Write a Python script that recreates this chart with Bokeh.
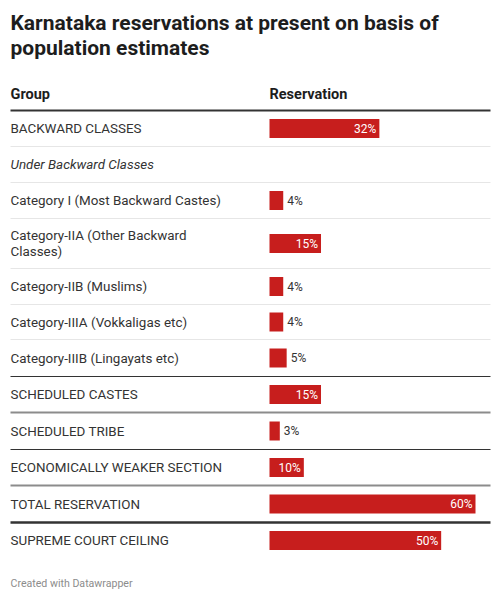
from bokeh.core.properties import value
from bokeh.embed import file_html
from bokeh.models import ColumnDataSource, Range1d
from bokeh.plotting import figure
from bokeh.resources import INLINE

title_lines = ["Karnataka reservations at present on basis of", "population estimates"]
column_names = ["Group", "Reservation"]
groups = [
    "BACKWARD CLASSES",
    "Under Backward Classes",
    "Category I (Most Backward Castes)",
    "Category-IIA (Other Backward\nClasses)",
    "Category-IIB (Muslims)",
    "Category-IIIA (Vokkaligas etc)",
    "Category-IIIB (Lingayats etc)",
    "SCHEDULED CASTES",
    "SCHEDULED TRIBE",
    "ECONOMICALLY WEAKER SECTION",
    "TOTAL RESERVATION",
    "SUPREME COURT CEILING",
]
reservation = [32, None, 4, 15, 4, 4, 5, 15, 3, 10, 60, 50]
footer = "Created with Datawrapper"

# layout, in page pixels (bokeh's page template has no body margin)
W, H = 500, 600
LEFT, RIGHT = 10, 490
BAR_X = 269
table_top = 110
row_heights = [36, 36, 36, 50, 36, 35, 37, 36, 37, 36, 37, 36]
rules = ["light"] * 6 + ["dark", "mid", "dark", "mid", "heavy", None]
rule_look = {
    "light": ("#e6e6e6", 1),
    "dark": ("#333333", 1),
    "mid": ("#8c8c8c", 2),
    "heavy": ("#333333", 2.5),
}
FONT = value("Roboto")
RED = "#c71e1d"
TEXT = "#333333"

p = figure(
    width=W,
    height=H,
    x_range=Range1d(0, W),
    y_range=Range1d(H, 0),
    x_axis_type=None,
    y_axis_type=None,
    toolbar_location=None,
    output_backend="svg",
    min_border=0,
)
p.outline_line_color = None
p.background_fill_color = "white"
# 0% sits at x=269 and 60% at x=475
p.extra_x_ranges = {"pct": Range1d(-78.35, 67.28)}

# title
p.text(x=[LEFT, LEFT], y=[22.5, 47.5], text=title_lines, text_font=FONT,
       text_font_size="21px", text_font_style="bold", text_color="#1d1d1d",
       text_baseline="middle")

# header
p.text(x=[LEFT, BAR_X], y=[93.5, 93.5], text=column_names, text_font=FONT,
       text_font_size="14.5px", text_font_style="bold", text_color="#1d1d1d",
       text_baseline="middle")
p.segment(x0=[LEFT], x1=[RIGHT], y0=[table_top], y1=[table_top],
          line_color="#333333", line_width=2)

# rows
centers, bottoms = [], []
y = table_top
for h in row_heights:
    centers.append(y + h / 2)
    y += h
    bottoms.append(y)

styles = ["italic" if v is None else "normal" for v in reservation]
p.text(x=[LEFT] * len(groups), y=centers, text=groups, text_font=FONT,
       text_font_size="13.4px", text_font_style=styles, text_color=TEXT,
       text_baseline="middle", text_line_height=1.05)

for b, r in zip(bottoms, rules):
    if r is None:
        continue
    color, width = rule_look[r]
    p.segment(x0=[LEFT], x1=[RIGHT], y0=[b], y1=[b], line_color=color, line_width=width)

bars = ColumnDataSource(data=dict(
    y=[c for c, v in zip(centers, reservation) if v is not None],
    v=[v for v in reservation if v is not None],
))
p.hbar(y="y", left=0, right="v", height=19, source=bars, x_range_name="pct",
       fill_color=RED, line_color=None)

inside = [(c, v) for c, v in zip(centers, reservation) if v is not None and v >= 10]
outside = [(c, v) for c, v in zip(centers, reservation) if v is not None and v < 10]
p.text(x=[v for _, v in inside], y=[c for c, _ in inside], text=[f"{v}%" for _, v in inside],
       x_range_name="pct", x_offset=-3, text_align="right", text_baseline="middle",
       text_font=FONT, text_font_size="12px", text_color="white")
p.text(x=[v for _, v in outside], y=[c for c, _ in outside], text=[f"{v}%" for _, v in outside],
       x_range_name="pct", x_offset=4, text_align="left", text_baseline="middle",
       text_font=FONT, text_font_size="12px", text_color=TEXT)

# footer
p.text(x=[LEFT], y=[583], text=[footer], text_font=FONT, text_font_size="10.6px",
       text_color="#8c8c8c", text_baseline="middle")

open("out.html", "w").write(file_html(p, INLINE))
